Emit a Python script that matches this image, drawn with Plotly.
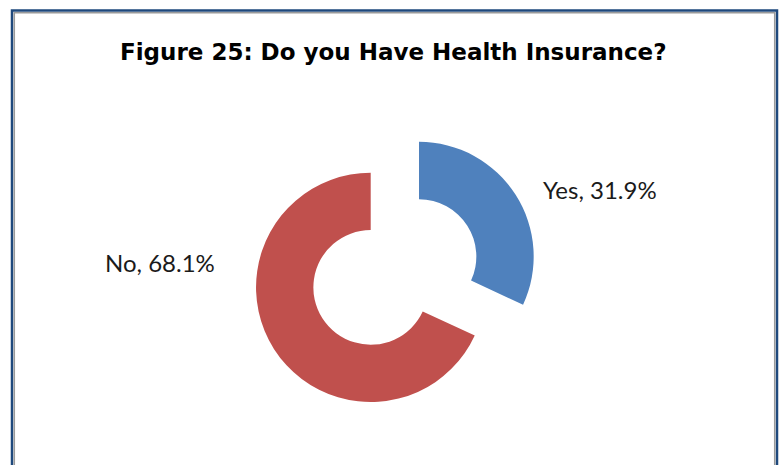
import plotly.graph_objects as go

title_text = "Figure 25: Do you Have Health Insurance?"
categories = ["Yes", "No"]
values = [31.9, 68.1]
colors = ["#4F81BD", "#C0504D"]

W, H = 783, 465

def px_x(x):
    return x / W

def px_y(y):
    return 1 - y / H

fig = go.Figure()
fig.add_trace(go.Pie(
    labels=categories,
    values=values,
    sort=False,
    direction="clockwise",
    rotation=0,
    hole=0.5,
    pull=[0.5, 0],
    marker=dict(colors=colors, line=dict(width=0)),
    textinfo="none",
    showlegend=False,
    domain=dict(x=[px_x(198.7), px_x(542.7)], y=[px_y(459.4), px_y(115.4)]),
))

label_pos = {"Yes": (600, 189), "No": (160, 262)}
for cat, val in zip(categories, values):
    x, y = label_pos[cat]
    fig.add_annotation(
        x=px_x(x), y=px_y(y), xref="paper", yref="paper",
        text=f"{cat}, {val}%", showarrow=False,
        font=dict(family="Lato", size=24, color="#1a1a1a"),
        xanchor="center", yanchor="middle",
    )

fig.add_annotation(
    x=px_x(393), y=px_y(52), xref="paper", yref="paper",
    text=f"<b>{title_text}</b>", showarrow=False,
    font=dict(family="DejaVu Sans", size=23, color="#000000"),
    xanchor="center", yanchor="middle",
)

# chart frame: outer dark blue line with inner grey line
fig.add_shape(type="rect", xref="paper", yref="paper",
              x0=px_x(12), x1=px_x(777), y0=px_y(10.5), y1=px_y(480),
              line=dict(color="#1F497D", width=2.5), fillcolor="rgba(0,0,0,0)")
fig.add_shape(type="rect", xref="paper", yref="paper",
              x0=px_x(14.3), x1=px_x(774.7), y0=px_y(12.8), y1=px_y(480),
              line=dict(color="#9A9A9A", width=1.5), fillcolor="rgba(0,0,0,0)")

fig.update_layout(
    width=W, height=H,
    margin=dict(l=0, r=0, t=0, b=0),
    paper_bgcolor="white",
    plot_bgcolor="white",
)

fig.write_html(
    "out.html",
    config={"displayModeBar": False},
    post_script="document.body.style.margin='0';document.body.style.padding='0';",
)
